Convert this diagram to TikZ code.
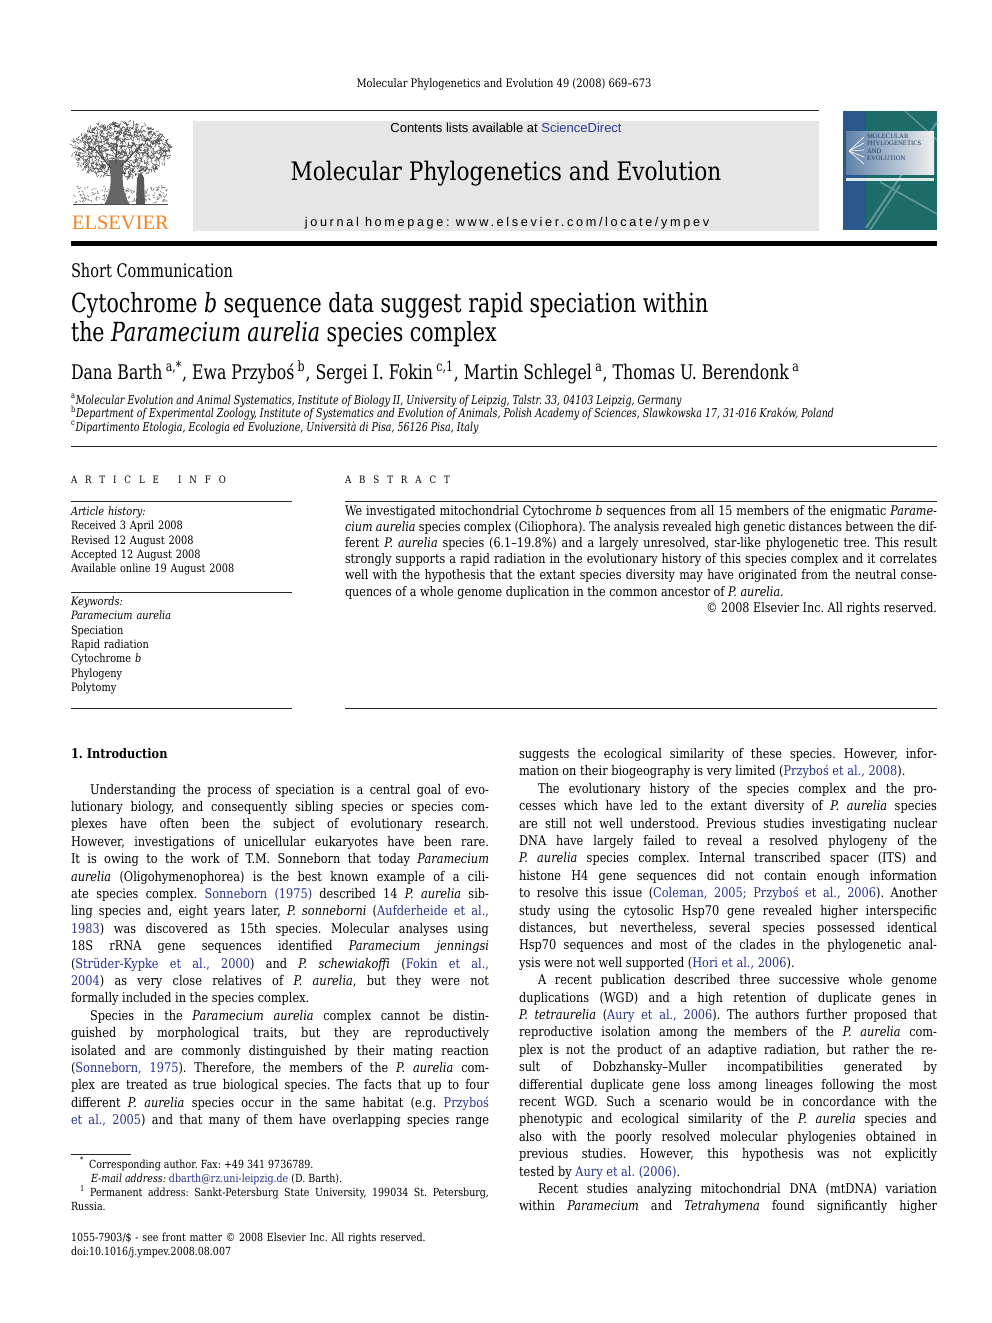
\documentclass[tikz,border=0pt]{standalone}
\usepackage{fontspec}
\setmainfont{DejaVu Serif}[FakeStretch=0.85]
\newfontfamily\condfont{DejaVu Serif}[FakeStretch=0.78]
\newfontfamily\sdfont{Liberation Sans}
\newfontfamily\homefont{Liberation Sans}[LetterSpace=21]
\newfontfamily\spacedfont{DejaVu Serif}[FakeStretch=0.85,LetterSpace=78]
\newfontfamily\elsfont{Liberation Serif}
\definecolor{linkc}{RGB}{38,50,140}
\definecolor{sdblue}{RGB}{40,60,150}
\definecolor{elsorange}{RGB}{243,130,35}
\definecolor{covteal}{RGB}{30,108,106}
\definecolor{covblue}{RGB}{42,88,140}
\definecolor{boxgray}{RGB}{230,230,230}
\newcommand{\lnk}[1]{\textcolor{linkc}{#1}}
\frenchspacing
\begin{document}
\begin{tikzpicture}[x=0.6pt,y=-0.6pt,
  txt/.style={inner sep=0pt,outer sep=0pt},
  col/.style={txt,anchor=base west,text width=250.8pt,align=justify,
     font=\fontsize{8.0}{10.44}\selectfont},
  abs/.style={txt,anchor=base west,text width=355.2pt,align=justify,
     font=\fontsize{7.9}{9.72}\selectfont},
  info/.style={txt,anchor=base west,text width=140pt,align=left,
     font=\fontsize{6.9}{8.58}\selectfont},
  foot/.style={txt,anchor=base west,text width=250.8pt,align=justify,
     font=\fontsize{6.7}{8.58}\selectfont},
  thinrule/.style={line width=0.6pt,black!85},
  cond/.style={txt,anchor=base west},
]
\useasboundingbox (0,0) rectangle (992,1323);
\fill[white] (0,0) rectangle (992,1323);

% running header
\node[txt,anchor=base,font=\fontsize{7}{8}\selectfont] (runhead) at (504,88) {Molecular Phylogenetics and Evolution 49 (2008) 669–673};
\draw[thinrule] (71,111) -- (819,111);

% grey banner
\fill[boxgray] (193,121) rectangle (819,231);
\node[txt,anchor=base,font=\sdfont\fontsize{7.8}{9}\selectfont] (contents) at (506,132.5) {Contents lists available at \textcolor{sdblue}{ScienceDirect}};
\node[txt,anchor=base,font=\fontsize{15.3}{17}\selectfont] (jtitle) at (506,181) {Molecular Phylogenetics and Evolution};
\node[txt,anchor=base,font=\homefont\fontsize{7.6}{9}\selectfont] (homepage) at (507,226) {journal homepage: www.elsevier.com/locate/ympev};

% Elsevier tree logo
\begin{scope}
  \pgfmathsetseed{11}
  \foreach \i in {1,...,1100}{
    \pgfmathsetmacro{\myang}{rnd*360}
    \pgfmathsetmacro{\myrad}{sqrt(rnd)}
    \pgfmathsetmacro{\myx}{121+49*\myrad*cos(\myang)}
    \pgfmathsetmacro{\myy}{150+28*\myrad*sin(\myang)}
    \pgfmathsetmacro{\mydir}{rnd*360}
    \draw[black!72,line width=0.3pt] (\myx,\myy) -- ++(\mydir:3.2);
  }
  \foreach \i in {1,...,160}{
    \pgfmathsetmacro{\myx}{75+92*rnd}
    \pgfmathsetmacro{\myy}{186+17*rnd}
    \pgfmathsetmacro{\mydir}{rnd*360}
    \draw[black!60,line width=0.3pt] (\myx,\myy) -- ++(\mydir:2.4);
  }
  \fill[black!60] (104,205) .. controls (112,190) and (112,178) .. (108,160) -- (124,160) .. controls (121,180) and (123,194) .. (130,205) -- cycle;
  \draw[black!70,line width=0.7pt] (111,168) -- (94,148);
  \draw[black!70,line width=0.7pt] (121,166) -- (142,144);
  \draw[black!70,line width=0.6pt] (116,164) -- (117,136);
  \fill[black!65] (136,205) -- (137,178) -- (141,172) -- (144,178) -- (145,205) -- cycle;
  \draw[black!70,line width=0.6pt] (73,205) -- (168,205);
\end{scope}
\node[txt,anchor=base west,font=\elsfont\fontsize{12.3}{13}\selectfont,text=elsorange] (elsevier) at (72,229) {ELSEVIER};

% journal cover
\fill[covteal] (843,111) rectangle (937,230);
\fill[covblue] (843,111) rectangle (866,230);
\draw[white!30!covteal,line width=1.2pt] (866,228) -- (937,122);
\draw[white!30!covteal,line width=1pt] (880,182) -- (937,214);
\draw[white!30!covteal,line width=1pt] (870,230) -- (900,185);
\draw[white!30!covteal,line width=0.8pt] (905,111) -- (937,140);
\shade[left color=covblue!75!white,right color=black!6] (846,132) rectangle (934,175);
\foreach \ty in {137,143,150,157,164}{
  \draw[white,line width=0.4pt] (849,151) -- (864,\ty);
}
\node[txt,anchor=north west,align=left,font=\elsfont\fontsize{4}{4.4}\selectfont,text=covblue!70!black] (covertext) at (867,134) {MOLECULAR\\PHYLOGENETICS\\AND\\EVOLUTION};
\fill[white!85!covteal] (846,178) rectangle (934,181);

% thick rule
\fill[black] (71,241) rectangle (937,246);

% title block
\node[cond,font=\condfont\fontsize{11.2}{13}\selectfont] (shortcomm) at (71,277.5) {Short Communication};
\node[cond,font=\condfont\fontsize{15.8}{17}\selectfont] (title1) at (71,312) {Cytochrome \emph{b} sequence data suggest rapid speciation within};
\node[cond,font=\condfont\fontsize{15.8}{17}\selectfont] (title2) at (71,341) {the \emph{Paramecium aurelia} species complex};
\node[cond,font=\condfont\fontsize{12.1}{14}\selectfont] (authors) at (71,379) {Dana Barth\,\textsuperscript{a,*}, Ewa Przyboś\,\textsuperscript{b}, Sergei I. Fokin\,\textsuperscript{c,1}, Martin Schlegel\,\textsuperscript{a}, Thomas U. Berendonk\,\textsuperscript{a}};
\node[cond,font=\condfont\fontsize{7.3}{8}\selectfont] (affa) at (71,404) {\textsuperscript{a}\emph{Molecular Evolution and Animal Systematics, Institute of Biology II, University of Leipzig, Talstr. 33, 04103 Leipzig, Germany}};
\node[cond,font=\condfont\fontsize{7.3}{8}\selectfont] (affb) at (71,417.5) {\textsuperscript{b}\emph{Department of Experimental Zoology, Institute of Systematics and Evolution of Animals, Polish Academy of Sciences, Slawkowska 17, 31-016 Kraków, Poland}};
\node[cond,font=\condfont\fontsize{7.3}{8}\selectfont] (affc) at (71,431) {\textsuperscript{c}\emph{Dipartimento Etologia, Ecologia ed Evoluzione, Università di Pisa, 56126 Pisa, Italy}};
\draw[thinrule] (71,446) -- (937,446);

% article info
\node[cond,font=\spacedfont\fontsize{6.1}{7}\selectfont] (ainfo) at (71,483.5) {ARTICLE\hspace{5pt} INFO};
\draw[thinrule] (71,501) -- (292,501);
\node[info] (history) at (71,515.5) {\emph{Article history:}\\Received 3 April 2008\\Revised 12 August 2008\\Accepted 12 August 2008\\Available online 19 August 2008};
\draw[thinrule] (71,592) -- (292,592);
\node[info] (keywords) at (71,605.5) {\emph{Keywords:}\\\emph{Paramecium aurelia}\\Speciation\\Rapid radiation\\Cytochrome \emph{b}\\Phylogeny\\Polytomy};
\draw[thinrule] (71,708) -- (292,708);

% abstract
\node[cond,font=\spacedfont\fontsize{6.1}{7}\selectfont] (abshead) at (345,483.5) {ABSTRACT};
\draw[thinrule] (345,501) -- (937,501);
\node[abs] (abstract) at (345,515) {We investigated mitochondrial Cytochrome \emph{b} sequences from all 15 members of the enigmatic \emph{Parame-}\linebreak
\emph{cium aurelia} species complex (Ciliophora). The analysis revealed high genetic distances between the dif-\linebreak
ferent \emph{P. aurelia} species (6.1–19.8\%) and a largely unresolved, star-like phylogenetic tree. This result\linebreak
strongly supports a rapid radiation in the evolutionary history of this species complex and it correlates\linebreak
well with the hypothesis that the extant species diversity may have originated from the neutral conse-\linebreak
quences of a whole genome duplication in the common ancestor of \emph{P. aurelia}.\par
\hfill © 2008 Elsevier Inc. All rights reserved.};
\draw[thinrule] (345,708) -- (937,708);

% introduction heading
\node[cond,font=\bfseries\fontsize{8}{9}\selectfont] (intro) at (71,758) {1. Introduction};

% left column
\node[col] (leftcol) at (71,794) {\hspace*{11.4pt}Understanding the process of speciation is a central goal of evo-\linebreak
lutionary biology, and consequently sibling species or species com-\linebreak
plexes have often been the subject of evolutionary research.\linebreak
However, investigations of unicellular eukaryotes have been rare.\linebreak
It is owing to the work of T.M. Sonneborn that today \emph{Paramecium}\linebreak
\emph{aurelia} (Oligohymenophorea) is the best known example of a cili-\linebreak
ate species complex. \lnk{Sonneborn (1975)} described 14 \emph{P. aurelia} sib-\linebreak
ling species and, eight years later, \emph{P. sonneborni} (\lnk{Aufderheide et al.,}\linebreak
\lnk{1983}) was discovered as 15th species. Molecular analyses using\linebreak
18S rRNA gene sequences identified \emph{Paramecium jenningsi}\linebreak
(\lnk{Strüder-Kypke et al., 2000}) and \emph{P. schewiakoffi} (\lnk{Fokin et al.,}\linebreak
\lnk{2004}) as very close relatives of \emph{P. aurelia}, but they were not\linebreak
formally included in the species complex.\par
\hspace*{11.4pt}Species in the \emph{Paramecium aurelia} complex cannot be distin-\linebreak
guished by morphological traits, but they are reproductively\linebreak
isolated and are commonly distinguished by their mating reaction\linebreak
(\lnk{Sonneborn, 1975}). Therefore, the members of the \emph{P. aurelia} com-\linebreak
plex are treated as true biological species. The facts that up to four\linebreak
different \emph{P. aurelia} species occur in the same habitat (e.g. \lnk{Przyboś}\linebreak
\lnk{et al., 2005}) and that many of them have overlapping species range\parfillskip=0pt\par};

% footnotes
\draw[thinrule] (71,1154) -- (131,1154);
\node[foot] (footnotes) at (71,1168) {\hspace*{5.4pt}\textsuperscript{*}\hspace{3pt}Corresponding author. Fax: +49 341 9736789.\\
\hspace*{12pt}\emph{E-mail address:} \lnk{dbarth@rz.uni-leipzig.de} (D. Barth).\\
\hspace*{5.4pt}\textsuperscript{1}\hspace{3pt}Permanent address: Sankt-Petersburg State University, 199034 St. Petersburg,\linebreak
Russia.};
\node[txt,anchor=base west,text width=300pt,align=left,font=\fontsize{6.7}{8.4}\selectfont] (frontmatter) at (71,1241.5) {1055-7903/\$ - see front matter © 2008 Elsevier Inc. All rights reserved.\\doi:10.1016/j.ympev.2008.08.007};

% right column
\node[col] (rightcol) at (519,758.5) {suggests the ecological similarity of these species. However, infor-\linebreak
mation on their biogeography is very limited (\lnk{Przyboś et al., 2008}).\par
\hspace*{11.4pt}The evolutionary history of the species complex and the pro-\linebreak
cesses which have led to the extant diversity of \emph{P. aurelia} species\linebreak
are still not well understood. Previous studies investigating nuclear\linebreak
DNA have largely failed to reveal a resolved phylogeny of the\linebreak
\emph{P. aurelia} species complex. Internal transcribed spacer (ITS) and\linebreak
histone H4 gene sequences did not contain enough information\linebreak
to resolve this issue (\lnk{Coleman, 2005; Przyboś et al., 2006}). Another\linebreak
study using the cytosolic Hsp70 gene revealed higher interspecific\linebreak
distances, but nevertheless, several species possessed identical\linebreak
Hsp70 sequences and most of the clades in the phylogenetic anal-\linebreak
ysis were not well supported (\lnk{Hori et al., 2006}).\par
\hspace*{11.4pt}A recent publication described three successive whole genome\linebreak
duplications (WGD) and a high retention of duplicate genes in\linebreak
\emph{P. tetraurelia} (\lnk{Aury et al., 2006}). The authors further proposed that\linebreak
reproductive isolation among the members of the \emph{P. aurelia} com-\linebreak
plex is not the product of an adaptive radiation, but rather the re-\linebreak
sult of Dobzhansky–Muller incompatibilities generated by\linebreak
differential duplicate gene loss among lineages following the most\linebreak
recent WGD. Such a scenario would be in concordance with the\linebreak
phenotypic and ecological similarity of the \emph{P. aurelia} species and\linebreak
also with the poorly resolved molecular phylogenies obtained in\linebreak
previous studies. However, this hypothesis was not explicitly\linebreak
tested by \lnk{Aury et al. (2006)}.\par
\hspace*{11.4pt}Recent studies analyzing mitochondrial DNA (mtDNA) variation\linebreak
within \emph{Paramecium} and \emph{Tetrahymena} found significantly higher\parfillskip=0pt\par};
\end{tikzpicture}
\end{document}
